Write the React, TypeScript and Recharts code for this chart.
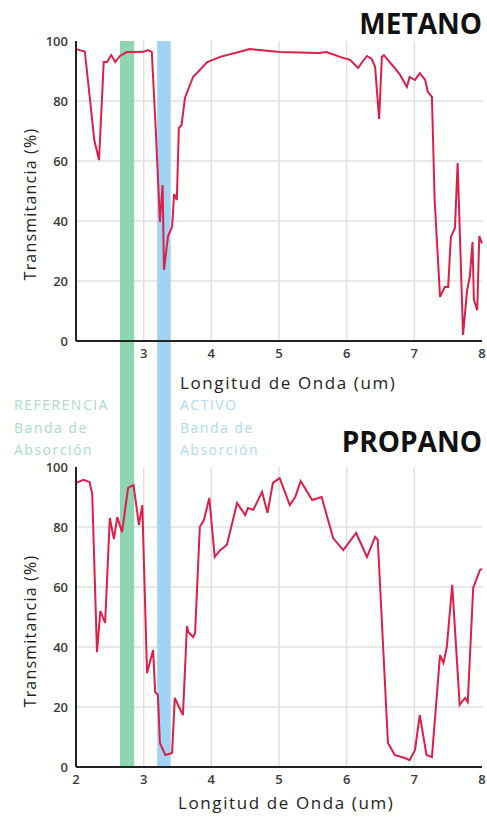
import React from 'react';
import { LineChart, Line, XAxis, YAxis, CartesianGrid, ReferenceArea } from 'recharts';

const metanoWl = [2.0, 2.13, 2.2, 2.27, 2.34, 2.41, 2.46, 2.52, 2.58, 2.65, 2.75, 2.84, 3.0, 3.06, 3.12, 3.18, 3.24, 3.28, 3.3, 3.36, 3.42, 3.45, 3.49, 3.52, 3.56, 3.61, 3.73, 3.94, 4.13, 4.42, 4.57, 5.01, 5.6, 5.7, 5.9, 6.05, 6.17, 6.23, 6.3, 6.37, 6.42, 6.48, 6.52, 6.55, 6.61, 6.71, 6.79, 6.89, 6.93, 7.01, 7.08, 7.16, 7.2, 7.26, 7.3, 7.38, 7.45, 7.5, 7.54, 7.6, 7.64, 7.72, 7.78, 7.82, 7.86, 7.88, 7.93, 7.96, 8.0];
const metanoT = [97.3, 96.5, 82, 67, 60.3, 93, 93, 95.3, 93, 95, 96.3, 96.3, 96.4, 97, 96.4, 70, 39.7, 52, 23.7, 35, 38, 49, 47, 71, 72, 81, 88, 93, 94.7, 96.4, 97.3, 96.3, 96, 96.3, 94.7, 93.7, 91, 93, 95, 94, 91.4, 74, 94.7, 95.3, 93.6, 91, 88.7, 84.7, 88, 87, 89.3, 87, 83, 81.4, 47, 14.7, 18, 18, 34.7, 37.7, 59.3, 2, 17, 21.4, 33, 13.7, 10.3, 35, 32.5];

const propanoWl = [2.0, 2.11, 2.2, 2.24, 2.31, 2.36, 2.43, 2.5, 2.56, 2.61, 2.68, 2.77, 2.85, 2.93, 2.98, 3.05, 3.14, 3.17, 3.21, 3.24, 3.32, 3.42, 3.46, 3.58, 3.64, 3.66, 3.73, 3.76, 3.83, 3.89, 3.97, 4.05, 4.13, 4.23, 4.38, 4.5, 4.54, 4.62, 4.75, 4.83, 4.91, 5.01, 5.16, 5.24, 5.32, 5.49, 5.63, 5.8, 5.95, 6.14, 6.3, 6.42, 6.46, 6.61, 6.71, 6.86, 6.93, 7.01, 7.08, 7.18, 7.26, 7.38, 7.43, 7.48, 7.56, 7.67, 7.75, 7.79, 7.87, 7.97, 8.0];
const propanoT = [94.7, 95.7, 95, 91, 38.3, 52, 48, 83, 76, 83.3, 78.3, 93, 94, 80.7, 87.3, 31.3, 39, 25, 24, 8, 4, 4.7, 23, 17.3, 47, 45, 43.3, 44.7, 80, 82.3, 89.7, 70, 72.3, 74, 88, 84, 86.3, 85.7, 91.7, 84.7, 94.7, 96.3, 87.3, 90, 95.3, 89, 90, 76.3, 72.3, 78, 70, 76.7, 75.7, 8, 4, 3, 2.3, 5.7, 17.3, 4, 3.3, 37.3, 34.7, 40, 60.7, 20.7, 23, 21.7, 59.7, 65.7, 66];

// bandas de absorción (um)
const refBand = [2.65, 2.86];
const activeBand = [3.2, 3.4];

const xTicksTop = [3, 4, 5, 6, 7, 8];
const xTicksBottom = [2, 3, 4, 5, 6, 7, 8];
const yTicks = [0, 20, 40, 60, 80, 100];

const metanoData = metanoWl.map((x, i) => ({ x, t: metanoT[i] }));
const propanoData = propanoWl.map((x, i) => ({ x, t: propanoT[i] }));

const FONT = '"Open Sans", sans-serif';
const LINE = '#dc1f48';
const GREEN = '#90d5b2';
const BLUE = '#a0d4f2';
const tick = { fontSize: 13, fill: '#3a3a3a', fontFamily: FONT, fontWeight: 600 };

const Spectrum = ({ data, xTicks, height, margin, gapBelow }) => (
  <LineChart width={487} height={height} data={data} margin={margin} style={{ overflow: 'visible' }}>
    <CartesianGrid stroke="#e0e0e0" strokeWidth={1.5} verticalValues={[3, 4, 5, 6, 7]} horizontalValues={[20, 40, 60, 80]} />
    <ReferenceArea x1={refBand[0]} x2={refBand[1]} y1={gapBelow ? -42 : 0} y2={100} fill={GREEN} fillOpacity={1} ifOverflow="visible" />
    <ReferenceArea x1={activeBand[0]} x2={activeBand[1]} y1={gapBelow ? -42 : 0} y2={100} fill={BLUE} fillOpacity={1} ifOverflow="visible" />
    <XAxis dataKey="x" type="number" domain={[2, 8]} ticks={xTicks} tickLine={false} height={30}
      axisLine={{ stroke: '#222', strokeWidth: 2 }} tick={tick} />
    <XAxis xAxisId="top" orientation="top" type="number" domain={[2, 8]} height={0} tick={false} tickLine={false}
      axisLine={{ stroke: '#333', strokeWidth: 2 }} />
    <YAxis type="number" domain={[0, 100]} ticks={yTicks} tickLine={false} width={76}
      axisLine={{ stroke: '#222', strokeWidth: 2 }} tick={tick} />
    <YAxis yAxisId="right" orientation="right" type="number" domain={[0, 100]} width={0} tick={false} tickLine={false}
      axisLine={{ stroke: '#333', strokeWidth: 2 }} />
    <Line dataKey="t" type="linear" stroke={LINE} strokeWidth={2} dot={false} isAnimationActive={false} />
  </LineChart>
);

const text = (style, children) => (
  <div style={{ position: 'absolute', fontFamily: FONT, whiteSpace: 'nowrap', ...style }}>{children}</div>
);

const YTitle = ({ top }) => (
  <div style={{ position: 'absolute', left: 30, top, width: 0, height: 0 }}>
    <div style={{ position: 'absolute', transform: 'translate(-50%, -50%) rotate(-90deg)', fontFamily: FONT, fontSize: 16, letterSpacing: 1.2, color: '#222', whiteSpace: 'nowrap' }}>
      Transmitancia (%)
    </div>
  </div>
);

export default function App() {
  return (
    <div style={{ position: 'absolute', left: 0, top: 0, width: 487, height: 818, background: '#fff', overflow: 'hidden' }}>
      <div style={{ position: 'absolute', left: 0, top: 0 }}>
        <Spectrum data={metanoData} xTicks={xTicksTop} height={470} gapBelow
          margin={{ top: 41, right: 5, bottom: 99, left: 0 }} />
      </div>
      <div style={{ position: 'absolute', left: 0, top: 400 }}>
        <Spectrum data={propanoData} xTicks={xTicksBottom} height={418} gapBelow={false}
          margin={{ top: 67, right: 5, bottom: 21, left: 0 }} />
      </div>

      {text({ right: 5, top: 3, fontSize: 28, fontWeight: 700, color: '#111', lineHeight: '40px' }, 'METANO')}
      {text({ right: 5, top: 421, fontSize: 28, fontWeight: 700, color: '#111', lineHeight: '40px' }, 'PROPANO')}

      {text({ left: 180, top: 372, fontSize: 17, letterSpacing: 1.6, color: '#222', lineHeight: '22px' }, 'Longitud de Onda (um)')}
      {text({ left: 178, top: 792, fontSize: 17, letterSpacing: 1.6, color: '#222', lineHeight: '22px' }, 'Longitud de Onda (um)')}

      <YTitle top={204} />
      <YTitle top={631} />

      {text({ left: 14, top: 394, fontSize: 14, letterSpacing: 1.5, color: '#a9dcc2', lineHeight: '22.5px' }, <>REFERENCIA<br />Banda de<br />Absorción</>)}
      {text({ left: 180, top: 394, fontSize: 14, letterSpacing: 1.5, color: '#aed9f2', lineHeight: '22.5px' }, <>ACTIVO<br />Banda de<br />Absorción</>)}
    </div>
  );
}
